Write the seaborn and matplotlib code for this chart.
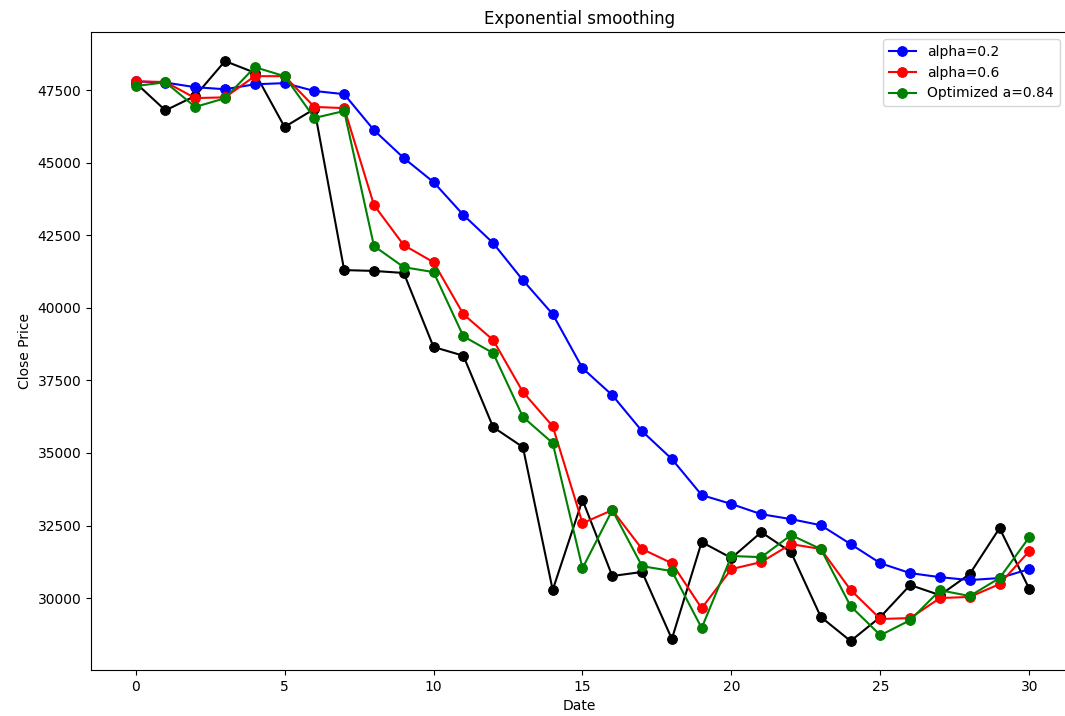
import numpy as np
import pandas as pd
import matplotlib
matplotlib.use("Agg")
import matplotlib.pyplot as plt
import seaborn as sns

# Исходные данные и сглаженные ряды
dates = list(range(31))
close = [47750, 46800, 47300, 48500, 48100, 46230, 46850, 41300, 41270, 41200,
         38650, 38350, 35890, 35200, 30280, 33380, 30760, 30900, 28590, 31930,
         31380, 32270, 31580, 29350, 28520, 29350, 30450, 30100, 30830, 32410,
         30310]
alpha_02 = [47800, 47760, 47600, 47530, 47700, 47740, 47470, 47360, 46120, 45160,
            44330, 43200, 42230, 40950, 39780, 37920, 36990, 35750, 34790, 33550,
            33240, 32890, 32720, 32510, 31860, 31200, 30860, 30720, 30620, 30690,
            31000]
alpha_06 = [47800, 47780, 47225, 47250, 47980, 47980, 46920, 46880, 43540, 42160,
            41570, 39780, 38890, 37100, 35920, 32580, 33030, 31690, 31200, 29650,
            31000, 31240, 31860, 31690, 30280, 29280, 29310, 30000, 30040, 30480,
            31620]
alpha_opt = [47640, 47770, 46920, 47220, 48290, 47980, 46540, 46780, 42130, 41400,
             41230, 39020, 38440, 36240, 35340, 31030, 33030, 31100, 30930, 28970,
             31450, 31410, 32170, 31690, 29720, 28720, 29240, 30270, 30070, 30690,
             32100]

fig = plt.figure(figsize=(10.65, 7.16), dpi=100)
# правый край осей уходит за край картинки, как на оригинале
ax = fig.add_axes([0.0854, 0.0642, 0.9175, 0.891])

ms = 7
sns.lineplot(x=dates, y=close, color="black", marker="o", markersize=ms,
             markeredgecolor="black", linewidth=1.5, ax=ax, legend=False)
sns.lineplot(x=dates, y=alpha_02, color="blue", marker="o", markersize=ms,
             markeredgecolor="blue", linewidth=1.5, ax=ax, label="alpha=0.2")
sns.lineplot(x=dates, y=alpha_06, color="red", marker="o", markersize=ms,
             markeredgecolor="red", linewidth=1.5, ax=ax, label="alpha=0.6")
sns.lineplot(x=dates, y=alpha_opt, color="green", marker="o", markersize=ms,
             markeredgecolor="green", linewidth=1.5, ax=ax, label="Optimized a=0.84")

ax.set_xlim(-1.5, 31.3)
ax.set_title("Exponential smoothing", fontsize=12)
ax.set_xlabel("Date")
ax.set_ylabel("Close Price")
ax.set_xticks([0, 5, 10, 15, 20, 25, 30])
ax.legend(loc="upper right", bbox_to_anchor=(0.9985, 1.0))

plt.savefig("out.png", dpi=100)
